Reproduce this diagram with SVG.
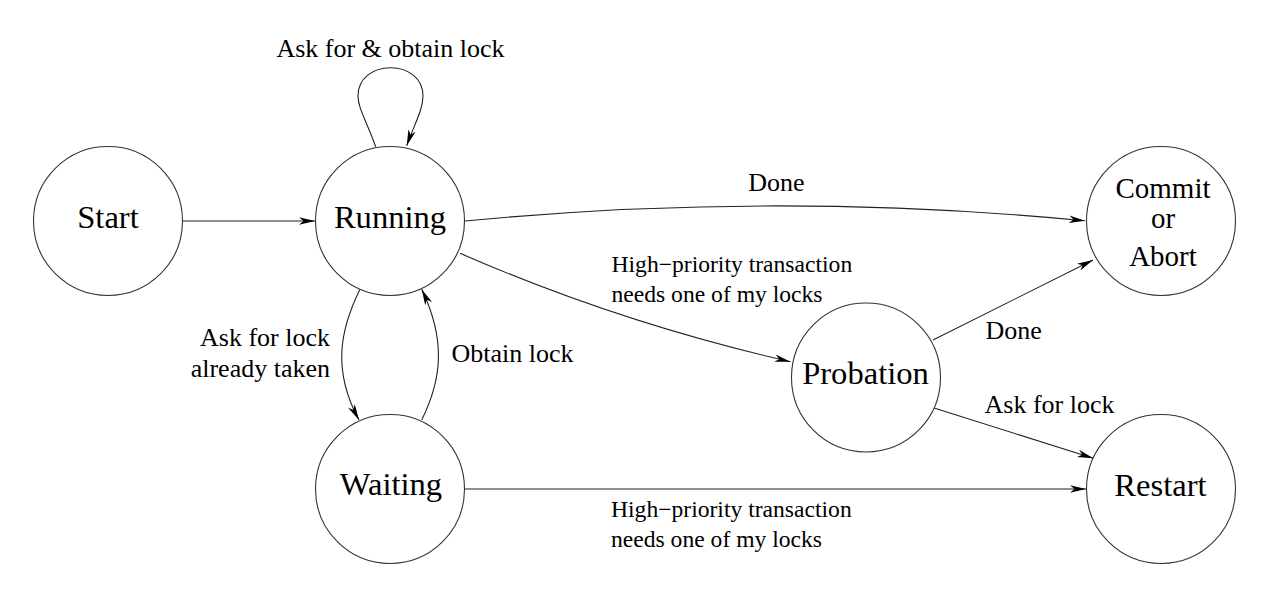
<svg xmlns="http://www.w3.org/2000/svg" width="1286" height="596" viewBox="0 0 1286 596">
<style>
.node{fill:#fff;stroke:#333;stroke-width:1.1}
.nt{font-family:"Liberation Serif","Times New Roman",serif;font-size:32.6px;fill:#000;text-anchor:middle}
.ct{font-family:"Liberation Serif","Times New Roman",serif;font-size:29px;fill:#000;text-anchor:middle}
.lb{font-family:"Liberation Serif","Times New Roman",serif;font-size:26px;fill:#000}
.sm{font-size:23.6px}
.edge{fill:none;stroke:#222;stroke-width:1.1;marker-end:url(#arr)}
</style>
<defs>
<marker id="arr" markerUnits="userSpaceOnUse" markerWidth="20" markerHeight="12" viewBox="-17 -6 18 12" refX="0" refY="0" orient="auto">
<path d="M0,0 L-16,-3.8 L-11.5,0 L-16,3.8 Z" fill="#000"/>
</marker>
</defs>
<g id="connectors">
<path class="edge" d="M182.7,221 L315,221"/>
<path class="edge" d="M375.7,146.7 C366,120 358,108 358,96 C358,78 373,67.7 390.7,67.7 C408,67.7 423,78 423,96 C423,110 414,125 406.7,145.7"/>
<path class="edge" d="M465,221 Q775,191 1085,220.7"/>
<path class="edge" d="M460,253.3 Q620,323 790.5,361.7"/>
<path class="edge" d="M360,289.3 C340,330 332,370 359,420"/>
<path class="edge" d="M421.7,420 C442,379 446,340 421.7,289.3"/>
<path class="edge" d="M464.3,489 L1086,489"/>
<path class="edge" d="M933,340 L1093,260"/>
<path class="edge" d="M933.3,407.7 L1093.3,458.3"/>
</g>
<g id="labels">
<text class="lb" x="390.5" y="57" text-anchor="middle" font-size="26.6">Ask for &amp; obtain lock</text>
<text class="lb" x="776.5" y="191" text-anchor="middle">Done</text>
<text class="lb sm" x="611.5" y="271.7">High−priority transaction</text>
<text class="lb sm" x="611.5" y="302">needs one of my locks</text>
<text class="lb" x="330" y="345.7" text-anchor="end">Ask for lock</text>
<text class="lb" x="330" y="376.7" text-anchor="end">already taken</text>
<text class="lb" x="451.5" y="361.7">Obtain lock</text>
<text class="lb" x="985.5" y="339.3">Done</text>
<text class="lb" x="984.5" y="413.3">Ask for lock</text>
<text class="lb sm" x="611" y="516.7">High−priority transaction</text>
<text class="lb sm" x="611" y="547">needs one of my locks</text>
</g>
<g id="start"><circle class="node" cx="108" cy="221" r="74.5"/><text class="nt" x="108" y="228">Start</text></g>
<g id="running"><circle class="node" cx="390" cy="221" r="74.5"/><text class="nt" x="390" y="228">Running</text></g>
<g id="commit"><circle class="node" cx="1161" cy="221" r="74.5"/><text class="ct" x="1163" y="198">Commit</text><text class="ct" x="1163" y="228">or</text><text class="ct" x="1163" y="266">Abort</text></g>
<g id="probation"><circle class="node" cx="866" cy="377.5" r="74.5"/><text class="nt" x="865.5" y="384">Probation</text></g>
<g id="waiting"><circle class="node" cx="390" cy="489" r="74.5"/><text class="nt" x="391" y="495">Waiting</text></g>
<g id="restart"><circle class="node" cx="1161" cy="489" r="74.5"/><text class="nt" x="1160.5" y="496">Restart</text></g>
</svg>
